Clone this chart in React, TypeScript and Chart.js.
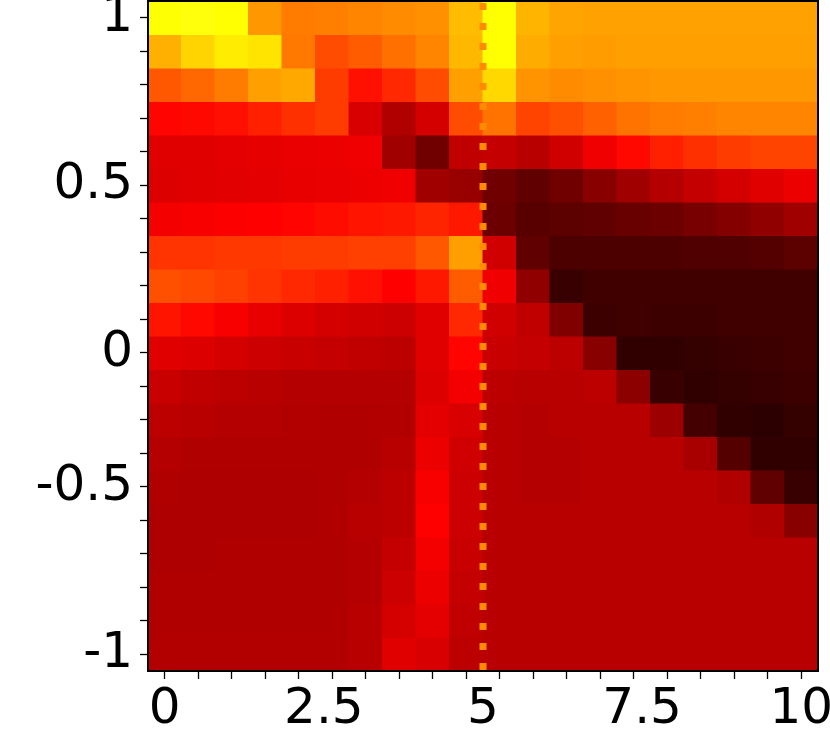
import React, { useEffect, useRef } from "react";
import { Chart, registerables } from "chart.js";

Chart.register(...registerables);

// ---- axis definitions ----
const X_FIRST_CENTER = 0;
const X_LAST_CENTER = 10;
const Y_TOP_CENTER = 1;
const Y_BOTTOM_CENTER = -1;
const N_COLS = 20;
const N_ROWS = 20;

const X_LABEL_VALUES = [0, 2.5, 5, 7.5, 10];
const X_LABEL_TEXT = ["0", "2.5", "5", "7.5", "10"];
const Y_TICK_LABELS = [
  "1", "", "", "", "", "0.5", "", "", "", "",
  "0", "", "", "", "-0.5", "", "", "", "", "-1",
];
const VLINE_X = 5;

// ---- cell values (rows from top y=1 to bottom y=-1, columns x=0..10), colormap "hot" scale 0..1 ----
const Z: number[][] = [
  [0.750, 0.758, 0.747, 0.590, 0.550, 0.556, 0.562, 0.574, 0.580, 0.646, 0.748, 0.634, 0.610, 0.605, 0.605, 0.605, 0.605, 0.605, 0.605, 0.605],
  [0.628, 0.682, 0.718, 0.706, 0.544, 0.479, 0.503, 0.532, 0.562, 0.640, 0.748, 0.622, 0.604, 0.598, 0.604, 0.604, 0.604, 0.604, 0.604, 0.604],
  [0.497, 0.521, 0.550, 0.604, 0.616, 0.455, 0.389, 0.425, 0.479, 0.604, 0.688, 0.586, 0.574, 0.580, 0.586, 0.592, 0.592, 0.592, 0.592, 0.592],
  [0.371, 0.377, 0.389, 0.413, 0.437, 0.455, 0.307, 0.247, 0.301, 0.479, 0.538, 0.467, 0.485, 0.509, 0.538, 0.550, 0.556, 0.562, 0.562, 0.562],
  [0.319, 0.320, 0.325, 0.328, 0.334, 0.337, 0.343, 0.223, 0.151, 0.271, 0.277, 0.259, 0.295, 0.343, 0.377, 0.413, 0.437, 0.455, 0.467, 0.467],
  [0.313, 0.319, 0.322, 0.325, 0.331, 0.334, 0.337, 0.343, 0.223, 0.211, 0.151, 0.128, 0.151, 0.187, 0.223, 0.253, 0.277, 0.301, 0.319, 0.337],
  [0.349, 0.355, 0.361, 0.365, 0.371, 0.383, 0.395, 0.401, 0.419, 0.401, 0.146, 0.116, 0.122, 0.128, 0.140, 0.146, 0.163, 0.181, 0.199, 0.223],
  [0.443, 0.443, 0.449, 0.449, 0.455, 0.455, 0.461, 0.461, 0.497, 0.604, 0.295, 0.128, 0.098, 0.098, 0.098, 0.098, 0.104, 0.104, 0.110, 0.122],
  [0.485, 0.473, 0.461, 0.443, 0.425, 0.413, 0.389, 0.365, 0.401, 0.503, 0.343, 0.199, 0.068, 0.080, 0.080, 0.080, 0.080, 0.080, 0.080, 0.080],
  [0.395, 0.377, 0.355, 0.331, 0.313, 0.301, 0.295, 0.289, 0.319, 0.425, 0.295, 0.271, 0.175, 0.074, 0.080, 0.074, 0.074, 0.080, 0.080, 0.080],
  [0.319, 0.313, 0.301, 0.289, 0.283, 0.277, 0.271, 0.265, 0.319, 0.371, 0.283, 0.277, 0.265, 0.187, 0.056, 0.056, 0.062, 0.068, 0.074, 0.080],
  [0.283, 0.271, 0.265, 0.259, 0.253, 0.253, 0.253, 0.253, 0.313, 0.349, 0.265, 0.259, 0.259, 0.265, 0.193, 0.068, 0.056, 0.062, 0.068, 0.074],
  [0.265, 0.259, 0.253, 0.253, 0.250, 0.247, 0.247, 0.250, 0.325, 0.307, 0.259, 0.253, 0.259, 0.259, 0.259, 0.217, 0.086, 0.056, 0.050, 0.062],
  [0.253, 0.247, 0.247, 0.247, 0.247, 0.247, 0.247, 0.259, 0.337, 0.295, 0.259, 0.253, 0.253, 0.259, 0.259, 0.259, 0.235, 0.110, 0.056, 0.056],
  [0.247, 0.244, 0.244, 0.244, 0.244, 0.247, 0.253, 0.265, 0.355, 0.289, 0.259, 0.253, 0.253, 0.259, 0.259, 0.259, 0.259, 0.247, 0.128, 0.068],
  [0.244, 0.244, 0.244, 0.244, 0.244, 0.247, 0.259, 0.265, 0.365, 0.289, 0.259, 0.259, 0.259, 0.259, 0.259, 0.259, 0.259, 0.259, 0.247, 0.187],
  [0.244, 0.244, 0.247, 0.247, 0.247, 0.247, 0.253, 0.277, 0.349, 0.283, 0.259, 0.259, 0.259, 0.259, 0.259, 0.259, 0.259, 0.259, 0.259, 0.259],
  [0.247, 0.247, 0.247, 0.247, 0.247, 0.247, 0.253, 0.289, 0.337, 0.277, 0.259, 0.259, 0.259, 0.259, 0.259, 0.259, 0.259, 0.259, 0.259, 0.259],
  [0.247, 0.247, 0.247, 0.247, 0.247, 0.247, 0.259, 0.301, 0.325, 0.271, 0.259, 0.259, 0.259, 0.259, 0.259, 0.259, 0.259, 0.259, 0.259, 0.259],
  [0.250, 0.250, 0.250, 0.250, 0.250, 0.250, 0.259, 0.319, 0.307, 0.265, 0.259, 0.259, 0.259, 0.259, 0.259, 0.259, 0.259, 0.259, 0.259, 0.259],
];

// ---- derived grid ----
const DX = (X_LAST_CENTER - X_FIRST_CENTER) / (N_COLS - 1);
const DY = (Y_TOP_CENTER - Y_BOTTOM_CENTER) / (N_ROWS - 1);
const X_CENTERS = Array.from({ length: N_COLS }, (_, j) => X_FIRST_CENTER + j * DX);
const Y_CENTERS = Array.from({ length: N_ROWS }, (_, k) => Y_TOP_CENTER - k * DY);
const X_MIN = X_FIRST_CENTER - DX / 2;
const X_MAX = X_LAST_CENTER + DX / 2;
const Y_MIN = Y_BOTTOM_CENTER - DY / 2;
const Y_MAX = Y_TOP_CENTER + DY / 2;

function clamp01(v: number) {
  return Math.max(0, Math.min(1, v));
}
// matplotlib "hot" colormap
function hot(v: number): string {
  const r = clamp01(0.0416 + (v * (1 - 0.0416)) / 0.365079);
  const g = clamp01((v - 0.365079) / (0.746032 - 0.365079));
  const b = clamp01((v - 0.746032) / (1 - 0.746032));
  return `rgb(${Math.round(r * 255)},${Math.round(g * 255)},${Math.round(b * 255)})`;
}

const FONT = { family: "'DejaVu Sans', sans-serif", size: 50 };

const framePlugin = {
  id: "frame",
  afterDraw(chart: any) {
    const { ctx, chartArea: a } = chart;
    ctx.save();
    ctx.strokeStyle = "#000";
    ctx.lineWidth = 2;
    ctx.strokeRect(a.left, a.top, a.right - a.left, a.bottom - a.top);
    ctx.restore();
  },
};

export default function App() {
  const ref = useRef<HTMLCanvasElement | null>(null);

  useEffect(() => {
    if (!ref.current) return;
    const cellDatasets = Z.map((row, k) => ({
      type: "bar" as const,
      data: row.map((_, j) => ({
        x: X_CENTERS[j],
        y: [Y_CENTERS[k] - DY / 2, Y_CENTERS[k] + DY / 2],
      })),
      backgroundColor: row.map(hot),
      borderWidth: 0,
      inflateAmount: 0.5,
      grouped: false,
      barPercentage: 1,
      categoryPercentage: 1,
      xAxisID: "x",
      yAxisID: "y",
      order: 1,
    }));

    const lineDataset = {
      type: "line" as const,
      data: [
        { x: VLINE_X, y: Y_MAX },
        { x: VLINE_X, y: Y_MIN },
      ],
      borderColor: "#ff8c00",
      borderWidth: 7,
      borderDash: [7, 13],
      borderDashOffset: -2,
      borderCapStyle: "butt",
      pointRadius: 0,
      fill: false,
      xAxisID: "x",
      yAxisID: "y",
      order: -1,
    };

    const chart = new Chart(ref.current, {
      type: "bar",
      data: { datasets: [...cellDatasets, lineDataset] as any },
      plugins: [framePlugin],
      options: {
        responsive: false,
        animation: false,
        devicePixelRatio: 1,
        layout: { padding: { left: 0, right: 12, top: 1, bottom: 0 }, autoPadding: false },
        plugins: { legend: { display: false }, tooltip: { enabled: false } },
        scales: {
          x: {
            type: "linear",
            position: "bottom",
            weight: 0,
            min: X_MIN,
            max: X_MAX,
            offset: false,
            grid: {
              display: true,
              offset: false,
              drawOnChartArea: false,
              drawTicks: true,
              tickLength: 8,
              tickColor: "#000",
              tickWidth: 1.3,
            },
            border: { display: false },
            ticks: { display: false, autoSkip: false },
            afterBuildTicks: (s: any) => {
              s.ticks = X_CENTERS.map((v) => ({ value: v }));
            },
            afterFit: (s: any) => {
              s.height = 8;
              s.paddingLeft = 0;
              s.paddingRight = 0;
            },
          },
          x2: {
            type: "linear",
            position: "bottom",
            weight: 1,
            min: X_MIN,
            max: X_MAX,
            offset: false,
            grid: { display: false, drawTicks: false, drawOnChartArea: false },
            border: { display: false },
            ticks: {
              autoSkip: false,
              maxRotation: 0,
              minRotation: 0,
              padding: 1,
              color: "#000",
              font: FONT,
              callback: (_v: any, i: number) => X_LABEL_TEXT[i],
            },
            afterBuildTicks: (s: any) => {
              s.ticks = X_LABEL_VALUES.map((v) => ({ value: v }));
            },
            afterFit: (s: any) => {
              s.height = 51;
              s.paddingLeft = 0;
              s.paddingRight = 0;
            },
          },
          y: {
            type: "linear",
            position: "left",
            min: Y_MIN,
            max: Y_MAX,
            grid: {
              display: true,
              drawOnChartArea: false,
              drawTicks: true,
              tickLength: 8,
              tickColor: "#000",
              tickWidth: 1.3,
            },
            border: { display: false },
            ticks: {
              autoSkip: false,
              padding: 7,
              color: "#000",
              font: FONT,
              callback: (_v: any, i: number) => Y_TICK_LABELS[i],
            },
            afterBuildTicks: (s: any) => {
              s.ticks = Y_CENTERS.map((v) => ({ value: v }));
            },
            afterFit: (s: any) => {
              s.width = 148;
              s.paddingTop = 0;
              s.paddingBottom = 0;
            },
          },
        },
      } as any,
    });
    return () => chart.destroy();
  }, []);

  return (
    <canvas
      ref={ref}
      width={830}
      height={730}
      style={{ position: "absolute", left: 0, top: 0, display: "block", width: 830, height: 730 }}
    />
  );
}
